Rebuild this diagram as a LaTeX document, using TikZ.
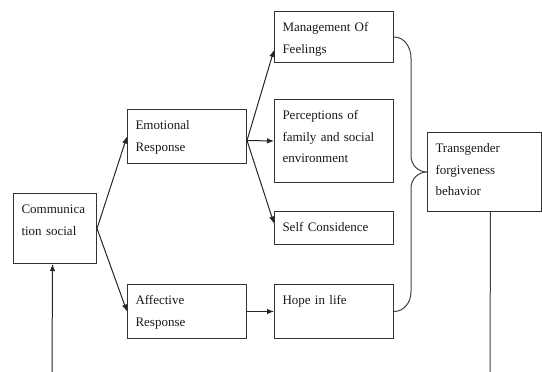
\documentclass[tikz,border=0pt]{standalone}
\usepackage{fontspec}
\setmainfont{Liberation Serif}
\usepackage{tikz}
\usetikzlibrary{arrows.meta,calc}

\tikzset{
  blok/.style={draw=black!80, line width=1pt, anchor=north west, align=left,
    inner xsep=8pt, inner ysep=7pt, text height=13pt,
    font=\fontsize{13}{21.5}\selectfont, text=black!90},
  pijl/.style={-{Latex[length=7pt,width=5.5pt]}, line width=1pt, draw=black!85},
  lijn/.style={line width=1pt, draw=black!75}
}

\begin{document}
\begin{tikzpicture}[x=1pt,y=-1pt]
\useasboundingbox (0,0) rectangle (542,372);

% boxes
\node[blok, text width=67pt, text depth=43pt] (comm) at (13,193) {Communica\\tion social};
\node[blok, text width=103pt, text depth=27pt] (emo) at (127,109) {Emotional\\Response};
\node[blok, text width=103pt, text depth=27pt] (aff) at (127,284) {Affective\\Response};

\node[blok, text width=103pt, text depth=24pt] (man) at (274,11) {Management Of\\Feelings};
\node[blok, text width=103pt, text depth=56pt] (per) at (274,99) {Perceptions of\\family and social\\environment};
\node[blok, text width=103pt, text depth=6pt] (self) at (274,211) {Self Considence};
\node[blok, text width=103pt, text depth=27pt] (hope) at (274,284) {Hope in life};

\node[blok, text width=98pt, text depth=52pt] (trans) at (427,132) {Transgender\\forgiveness\\behavior};

% arrows
\draw[pijl] (comm.east) -- (emo.west);
\draw[pijl] (comm.east) -- (aff.west);

\coordinate (emoout) at ([yshift=-4pt]emo.east);
\draw[pijl] (emoout) -- ([yshift=-13pt]man.west);
\draw[pijl] (emoout) -- (per.west);
\draw[pijl] (emoout) -- ([yshift=4.5pt]self.west);
\draw[pijl] (aff.east) -- (hope.west);

% brace
\draw[lijn] (man.east) to[out=0,in=90] (411,58) -- (411,156)
  to[out=-90,in=180] (trans.west)
  to[out=180,in=90] (411,188) -- (411,292)
  to[out=-90,in=0] (hope.east);

% feedback
\coordinate (fb1) at (490,372);
\coordinate (fb2) at (52,372);
\draw[lijn] ([xshift=6pt]trans.south) -- (fb1);
\draw[pijl] (fb2) -- ([xshift=-2.5pt]comm.south);
\end{tikzpicture}
\end{document}
